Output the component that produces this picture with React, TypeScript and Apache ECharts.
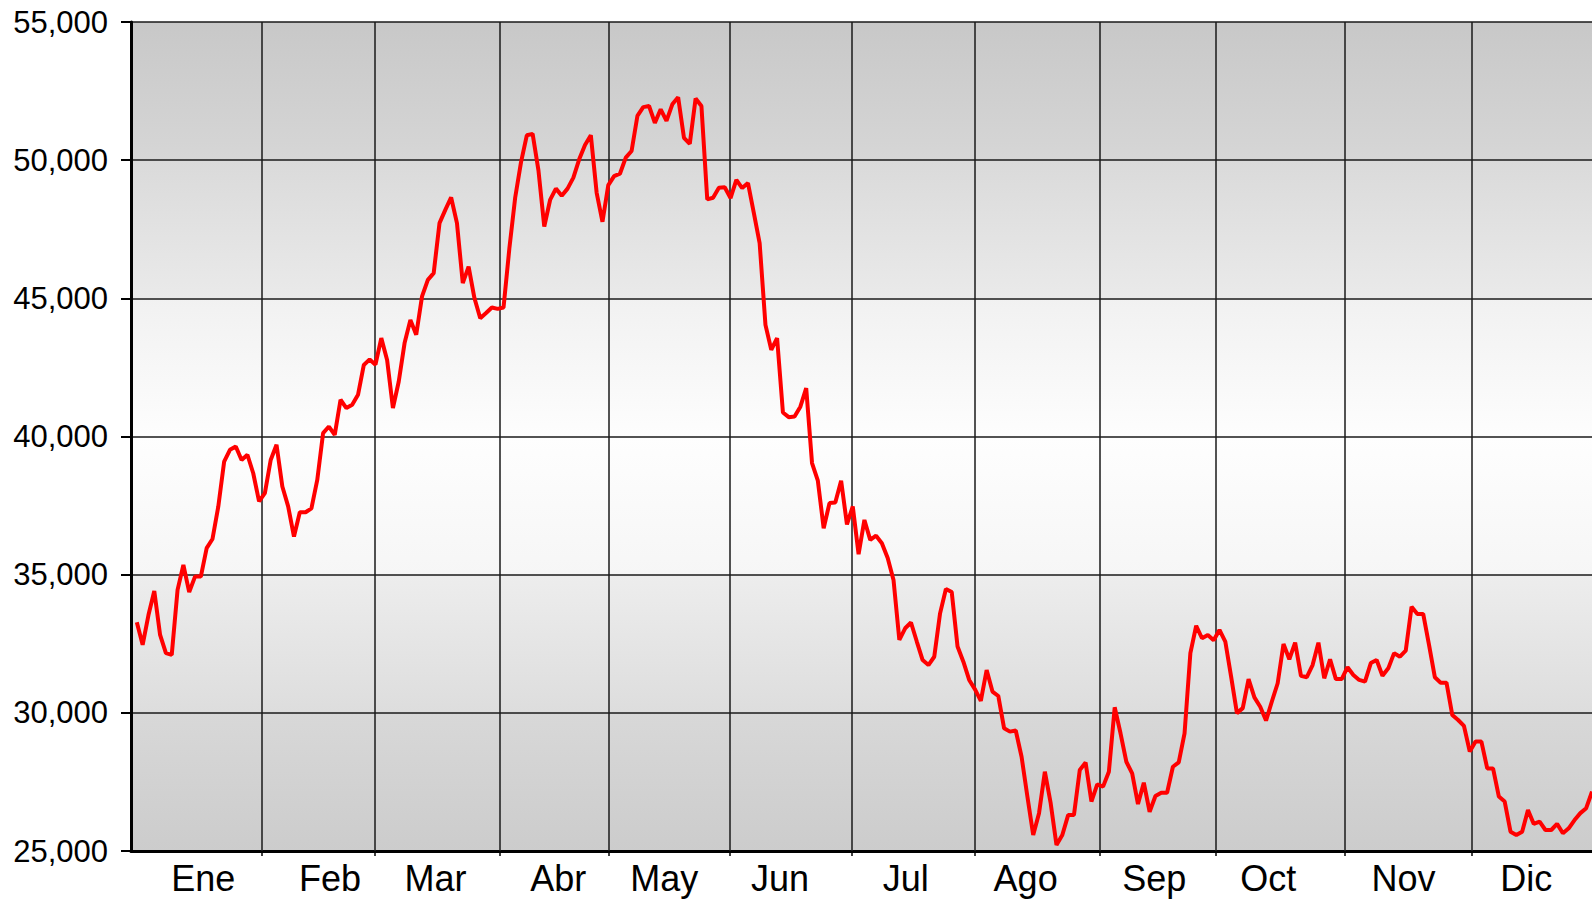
import React, { useEffect, useRef } from "react";
import * as echarts from "echarts";

// Month names (x-axis tick labels)
const monthNames = ["Ene", "Feb", "Mar", "Abr", "May", "Jun", "Jul", "Ago", "Sep", "Oct", "Nov", "Dic"];

// Daily closing values per month (first slot of January is the empty New Year holiday)
const ene = [null, 33280, 32460, 33540, 34410, 32820, 32160, 32100, 34450, 35350, 34370, 34930, 34930, 35960, 36290, 37470, 39090, 39520, 39640, 39150, 39340, 38670];
const feb = [37650, 37950, 39150, 39700, 38190, 37470, 36380, 37260, 37260, 37400, 38430, 40120, 40360, 40060, 41330, 41030, 41150, 41510, 42590, 42790];
const mar = [42600, 43560, 42770, 41030, 41990, 43380, 44220, 43680, 45070, 45670, 45910, 47720, 48200, 48650, 47720, 45550, 46150, 45010, 44280, 44470, 44670];
const abr = [44620, 44670, 46800, 48640, 49920, 50900, 50950, 49630, 47600, 48560, 48970, 48710, 48970, 49370, 50030, 50550, 50900, 48820, 47770];
const may = [49100, 49420, 49510, 50090, 50330, 51600, 51920, 51960, 51350, 51840, 51420, 52020, 52280, 50810, 50590, 52230, 51960, 48580, 48640, 49000, 49020];
const jun = [48630, 49290, 48990, 49170, 48090, 47000, 44040, 43140, 43560, 40870, 40700, 40720, 41080, 41750, 39040, 38400, 36680, 37590, 37610, 38400, 36820];
const jul = [37470, 35740, 36980, 36260, 36410, 36140, 35600, 34810, 32640, 33060, 33270, 32580, 31910, 31730, 32030, 33600, 34480, 34370, 32400, 31850, 31190];
const ago = [30850, 30430, 31550, 30770, 30610, 29440, 29320, 29360, 28410, 26970, 25580, 26370, 27870, 26730, 25220, 25580, 26300, 26300, 27930, 28200, 26790];
const sep = [27410, 27330, 27870, 30200, 29260, 28230, 27810, 26700, 27470, 26420, 26990, 27110, 27110, 28050, 28210, 29260, 32160, 33150, 32700, 32820];
const oct = [32630, 33000, 32580, 31310, 29990, 30170, 31220, 30560, 30220, 29720, 30410, 31070, 32490, 31940, 32540, 31340, 31290, 31730, 32540, 31250, 31940, 31220, 31220];
const nov = [31650, 31370, 31190, 31130, 31800, 31910, 31340, 31610, 32160, 32030, 32250, 33840, 33580, 33580, 32460, 31290, 31090, 31090, 29920, 29740, 29530, 28600];
const dic = [28960, 28960, 27990, 27990, 26970, 26790, 25700, 25580, 25700, 26480, 25980, 26060, 25760, 25760, 25980, 25640, 25820, 26120, 26370, 26550, 27150];

// Month boundary ticks and month label ticks, in trading-day units
const monthBoundaryTicks = [22.4, 41.9, 63.4, 82.1, 102.8, 123.9, 145.0, 166.5, 186.3, 208.6, 230.4];
const monthLabelTicks = [12.4, 34.2, 52.3, 73.4, 91.6, 111.5, 133.1, 153.7, 175.8, 195.4, 218.6, 239.7];

// Y axis range
const yMin = 25000;
const yMax = 55000;
const yStep = 5000;

export default function App() {
  const ref = useRef<HTMLDivElement>(null);

  useEffect(() => {
    if (!ref.current) return;
    const chart = echarts.init(ref.current, undefined, { renderer: "svg" });

    const months = [ene, feb, mar, abr, may, jun, jul, ago, sep, oct, nov, dic];
    const points: [number, number | null][] = [];
    months.forEach((arr) => {
      arr.forEach((v) => {
        points.push([points.length, v as number | null]);
      });
    });
    const lastIndex = points.length - 1;

    const bg = new echarts.graphic.LinearGradient(0, 0, 0, 1, [
      { offset: 0, color: "#c8c8c8" },
      { offset: 0.1666, color: "#d6d6d6" },
      { offset: 0.1667, color: "#dadada" },
      { offset: 0.3333, color: "#eaeaea" },
      { offset: 0.3334, color: "#f1f1f1" },
      { offset: 0.5, color: "#fdfdfd" },
      { offset: 0.5001, color: "#fefefe" },
      { offset: 0.6666, color: "#f6f6f6" },
      { offset: 0.6667, color: "#ededed" },
      { offset: 0.8333, color: "#dddddd" },
      { offset: 0.8334, color: "#d8d8d8" },
      { offset: 1, color: "#cccccc" },
    ]);

    const font = "'Liberation Sans', Arial, Helvetica, sans-serif";

    chart.setOption({
      animation: false,
      grid: {
        left: 131,
        right: 0,
        top: 22,
        bottom: 51,
        show: true,
        backgroundColor: bg,
        borderWidth: 0,
      },
      xAxis: {
        type: "value",
        min: 0,
        max: lastIndex,
        axisLine: { show: true, onZero: false, lineStyle: { color: "#000", width: 3 } },
        axisTick: {
          show: true,
          customValues: monthBoundaryTicks,
          length: 5,
          lineStyle: { color: "#000", width: 1.5 },
        },
        axisLabel: {
          show: true,
          customValues: monthLabelTicks,
          formatter: (v: number) => {
            const k = monthLabelTicks.findIndex((t) => Math.abs(t - v) < 1e-6);
            return k >= 0 ? monthNames[k] : "";
          },
          fontSize: 36,
          color: "#000",
          margin: 9,
          fontFamily: font,
        },
        splitLine: { show: false },
      },
      yAxis: {
        type: "value",
        min: yMin,
        max: yMax,
        interval: yStep,
        axisLine: { show: true, lineStyle: { color: "#000", width: 3 } },
        axisTick: { show: true, length: 10, lineStyle: { color: "#000", width: 2 } },
        axisLabel: {
          fontSize: 31,
          color: "#000",
          margin: 23,
          fontFamily: font,
          formatter: (v: number) => v.toLocaleString("en-US"),
        },
        splitLine: { show: true, lineStyle: { color: "#1a1a1a", width: 1.5 } },
      },
      series: [
        {
          type: "line",
          data: [],
          z: 1,
          silent: true,
          markLine: {
            silent: true,
            symbol: ["none", "none"],
            label: { show: false },
            lineStyle: { color: "#1a1a1a", width: 1.5, type: "solid" },
            data: monthBoundaryTicks.map((t) => ({ xAxis: t })),
          },
        },
        {
          type: "line",
          data: points,
          symbol: "none",
          showSymbol: false,
          connectNulls: false,
          lineStyle: { color: "#ff0000", width: 4 },
          z: 5,
        },
      ],
    });

    return () => chart.dispose();
  }, []);

  return (
    <div
      ref={ref}
      style={{ position: "absolute", left: 0, top: 0, width: 1592, height: 902 }}
    />
  );
}
